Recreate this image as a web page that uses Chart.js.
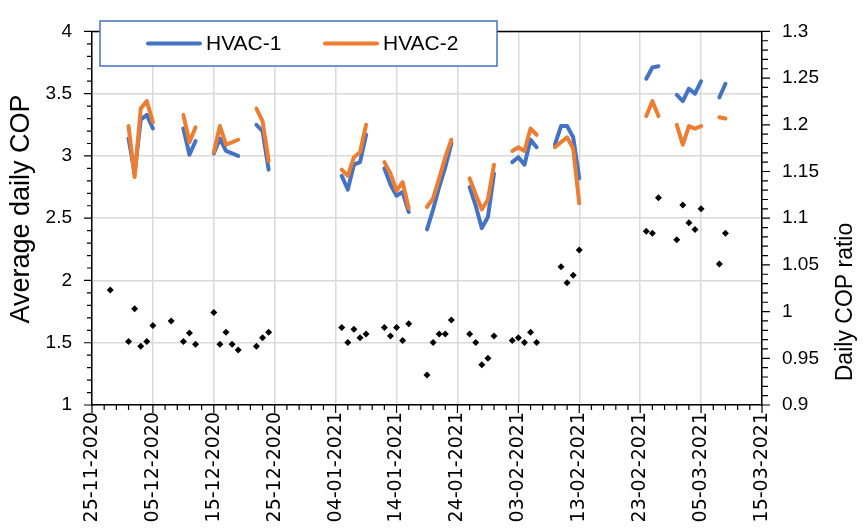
<!DOCTYPE html>
<html>
<head>
<meta charset="utf-8">
<title>Average daily COP</title>
<script src="https://cdn.jsdelivr.net/npm/chart.js@4.4.1/dist/chart.umd.min.js"></script>
<style>
  html, body { margin: 0; padding: 0; background: #fff; }
  #wrap { width: 863px; height: 531px; }
</style>
</head>
<body>
<div id="wrap"><canvas id="cop" width="863" height="531"></canvas></div>
<script>
// days with measurements
const dates = [
  '28-11-2020', '01-12-2020', '02-12-2020', '03-12-2020', '04-12-2020', '05-12-2020',
  '08-12-2020', '10-12-2020', '11-12-2020', '12-12-2020',
  '15-12-2020', '16-12-2020', '17-12-2020', '18-12-2020', '19-12-2020',
  '22-12-2020', '23-12-2020', '24-12-2020',
  '05-01-2021', '06-01-2021', '07-01-2021', '08-01-2021', '09-01-2021',
  '12-01-2021', '13-01-2021', '14-01-2021', '15-01-2021', '16-01-2021',
  '19-01-2021', '20-01-2021', '21-01-2021', '22-01-2021', '23-01-2021',
  '26-01-2021', '27-01-2021', '28-01-2021', '29-01-2021', '30-01-2021',
  '02-02-2021', '03-02-2021', '04-02-2021', '05-02-2021', '06-02-2021',
  '09-02-2021', '10-02-2021', '11-02-2021', '12-02-2021', '13-02-2021',
  '24-02-2021', '25-02-2021', '26-02-2021',
  '01-03-2021', '02-03-2021', '03-03-2021', '04-03-2021', '05-03-2021',
  '08-03-2021', '09-03-2021'
];

const hvac1 = [
  null, 3.14, 2.86, 3.29, 3.33, 3.22,
  null, 3.22, 3.01, 3.12,
  3.02, 3.14, 3.04, 3.02, 3.00,
  3.25, 3.20, 2.89,
  2.84, 2.73, 2.93, 2.95, 3.17,
  2.90, 2.77, 2.68, 2.71, 2.55,
  2.41, 2.57, 2.75, 2.91, 3.10,
  2.75, 2.60, 2.42, 2.51, 2.86,
  2.95, 2.99, 2.93, 3.13, 3.07,
  3.09, 3.24, 3.24, 3.15, 2.82,
  3.62, 3.71, 3.72,
  3.49, 3.44, 3.54, 3.50, 3.60,
  3.47, 3.58
];

const hvac2 = [
  null, 3.24, 2.83, 3.38, 3.44, 3.27,
  null, 3.33, 3.11, 3.23,
  3.03, 3.24, 3.09, 3.11, 3.13,
  3.38, 3.28, 2.96,
  2.89, 2.84, 2.99, 3.03, 3.25,
  2.95, 2.86, 2.72, 2.79, 2.58,
  2.59, 2.66, 2.82, 2.99, 3.13,
  2.82, 2.69, 2.57, 2.65, 2.93,
  3.04, 3.07, 3.04, 3.22, 3.17,
  3.07, 3.11, 3.15, 3.06, 2.62,
  3.32, 3.44, 3.32,
  3.25, 3.09, 3.24, 3.22, 3.24,
  3.31, 3.30
];

const copRatio = [
  1.023, 0.968, 1.003, 0.963, 0.968, 0.985,
  0.990, 0.968, 0.977, 0.965,
  0.999, 0.965, 0.978, 0.965, 0.959,
  0.963, 0.972, 0.978,
  0.983, 0.967, 0.981, 0.972, 0.976,
  0.983, 0.974, 0.983, 0.969, 0.987,
  0.932, 0.967, 0.976, 0.976, 0.991,
  0.976, 0.967, 0.943, 0.950, 0.974,
  0.969, 0.972, 0.967, 0.978, 0.967,
  null, 1.048, 1.031, 1.039, 1.066,
  1.086, 1.084, 1.122,
  1.077, 1.114, 1.095, 1.088, 1.110,
  1.051, 1.084
];

const xTickLabels = [
  '25-11-2020', '05-12-2020', '15-12-2020', '25-12-2020', '04-01-2021', '14-01-2021',
  '24-01-2021', '03-02-2021', '13-02-2021', '23-02-2021', '05-03-2021', '15-03-2021'
];

const BLUE = '#4472C4';
const ORANGE = '#ED7D31';

// dd-mm-yyyy -> days after the first tick
const origin = Date.UTC(2020, 10, 25);
function toDay(s) {
  const p = s.split('-');
  return Math.round((Date.UTC(+p[2], +p[1] - 1, +p[0]) - origin) / 86400000);
}
// missing days are left out, spanGaps then breaks the line
function pts(values) {
  return dates
    .map((d, i) => ({ x: toDay(d), y: values[i] }))
    .filter(p => p.y !== null);
}

const xTickDays = xTickLabels.map(toDay);

const decor = {
  id: 'decor',
  afterDraw(chart) {
    const ctx = chart.ctx;
    const a = chart.chartArea;
    const x = chart.scales.x, y = chart.scales.y, y1 = chart.scales.y1;
    ctx.save();

    // frame top + tick marks
    ctx.strokeStyle = '#000';
    ctx.lineWidth = 1.5;
    ctx.beginPath();
    ctx.moveTo(a.left, a.top);
    ctx.lineTo(a.right, a.top);
    ctx.stroke();

    ctx.lineWidth = 1.2;
    ctx.beginPath();
    const last = xTickDays[xTickDays.length - 1];
    for (let d = 0; d <= last; d += 2) {
      const px = x.getPixelForValue(d);
      const len = d % 10 === 0 ? 8 : 5;
      ctx.moveTo(px, a.bottom);
      ctx.lineTo(px, a.bottom + len);
    }
    for (let i = 0; i <= 30; i++) {
      const py = y.getPixelForValue(1 + i * 0.1);
      const len = i % 5 === 0 ? 8 : 5;
      ctx.moveTo(a.left - len, py);
      ctx.lineTo(a.left, py);
    }
    for (let i = 0; i <= 40; i++) {
      const py = y1.getPixelForValue(0.9 + i * 0.01);
      const len = i % 5 === 0 ? 8 : 6;
      ctx.moveTo(a.right, py);
      ctx.lineTo(a.right + len, py);
    }
    ctx.stroke();

    // axis titles
    ctx.fillStyle = '#000';
    ctx.textAlign = 'center';
    ctx.textBaseline = 'middle';
    ctx.font = '27px "Liberation Sans", Arial, sans-serif';
    ctx.save();
    ctx.translate(22, 209);
    ctx.rotate(-Math.PI / 2);
    ctx.fillText('Average daily COP', 0, 0);
    ctx.restore();
    ctx.font = '23px "Liberation Sans", Arial, sans-serif';
    ctx.save();
    ctx.translate(846, 302);
    ctx.rotate(-Math.PI / 2);
    ctx.fillText('Daily COP ratio', 0, 0);
    ctx.restore();

    // legend
    ctx.fillStyle = '#fff';
    ctx.fillRect(100, 21, 397, 45);
    ctx.strokeStyle = BLUE;
    ctx.lineWidth = 1.5;
    ctx.strokeRect(100, 21, 397, 45);
    const items = [
      { ds: chart.data.datasets[0], x0: 148 },
      { ds: chart.data.datasets[1], x0: 325 }
    ];
    ctx.font = '21px "Liberation Sans", Arial, sans-serif';
    ctx.textAlign = 'left';
    items.forEach(it => {
      ctx.strokeStyle = it.ds.borderColor;
      ctx.lineWidth = 4;
      ctx.lineCap = 'round';
      ctx.beginPath();
      ctx.moveTo(it.x0, 43.5);
      ctx.lineTo(it.x0 + 52, 43.5);
      ctx.stroke();
      ctx.fillStyle = '#000';
      ctx.fillText(it.ds.label, it.x0 + 58, 44);
    });
    ctx.restore();
  }
};

const lineStyle = {
  borderWidth: 4,
  pointRadius: 0,
  borderCapStyle: 'round',
  borderJoinStyle: 'round',
  tension: 0,
  spanGaps: 1.5,
  yAxisID: 'y'
};

const numLabel = v => String(+v.toFixed(2));

new Chart(document.getElementById('cop'), {
  type: 'line',
  data: {
    datasets: [
      Object.assign({ label: 'HVAC-1', data: pts(hvac1), borderColor: BLUE, order: 1 }, lineStyle),
      Object.assign({ label: 'HVAC-2', data: pts(hvac2), borderColor: ORANGE, order: 0 }, lineStyle),
      {
        label: 'Daily COP ratio',
        data: pts(copRatio),
        showLine: false,
        pointStyle: 'rectRot',
        pointRadius: 3.5,
        pointBackgroundColor: '#000',
        pointBorderWidth: 0,
        yAxisID: 'y1',
        order: 2
      }
    ]
  },
  options: {
    responsive: false,
    animation: false,
    devicePixelRatio: 1,
    layout: { padding: { top: 17, left: 0, right: 0, bottom: 0 } },
    plugins: { legend: { display: false }, tooltip: { enabled: false } },
    scales: {
      x: {
        type: 'linear',
        min: xTickDays[0],
        max: xTickDays[xTickDays.length - 1],
        afterBuildTicks(s) { s.ticks = xTickDays.map(v => ({ value: v })); },
        afterFit(s) { s.height = 126; },
        ticks: {
          autoSkip: false,
          minRotation: 90,
          maxRotation: 90,
          padding: 7,
          color: '#000',
          font: { family: '"DejaVu Sans", Verdana, sans-serif', size: 19 },
          callback: v => xTickLabels[xTickDays.indexOf(v)]
        },
        grid: { color: '#d9d9d9', lineWidth: 1.5, drawTicks: false },
        border: { color: '#000', width: 1.5 }
      },
      y: {
        position: 'left',
        min: 1,
        max: 4,
        afterFit(s) { s.width = 92; },
        ticks: {
          stepSize: 0.5,
          padding: 20,
          color: '#000',
          font: { family: '"Liberation Sans", Arial, sans-serif', size: 19 },
          callback: numLabel
        },
        grid: { color: '#d9d9d9', lineWidth: 1.5, drawTicks: false },
        border: { color: '#000', width: 1.5 }
      },
      y1: {
        position: 'right',
        min: 0.9,
        max: 1.3,
        afterFit(s) { s.width = 101; },
        ticks: {
          stepSize: 0.05,
          padding: 20,
          color: '#000',
          font: { family: '"Liberation Sans", Arial, sans-serif', size: 19 },
          callback: numLabel
        },
        grid: { display: false, drawTicks: false },
        border: { color: '#000', width: 1.5 }
      }
    }
  },
  plugins: [decor]
});
</script>
</body>
</html>
